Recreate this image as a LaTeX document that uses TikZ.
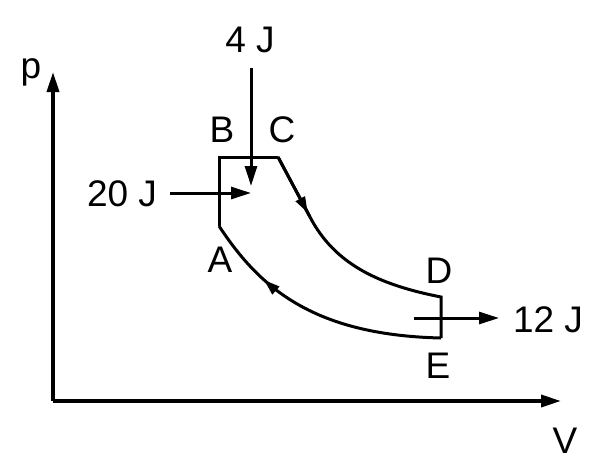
\documentclass[tikz,border=0pt]{standalone}
\usepackage{fontspec}
\setmainfont{Liberation Sans}
\usetikzlibrary{arrows.meta,decorations.markings}
\begin{document}
\begin{tikzpicture}[x=1pt,y=-1pt,
  lbl/.style={inner sep=0pt,anchor=base,font=\fontsize{37}{40}\selectfont},
  cyc/.style={line width=3pt,line join=miter},
  heat/.style={line width=3pt,-{Triangle[length=20pt,width=12pt]}},
  axis/.style={line width=3.5pt,-{Triangle[length=20pt,width=12pt]}},
  midarrow/.style={postaction={decorate},decoration={markings,mark=at position #1 with {\arrow{Triangle[length=16pt,width=10pt]}}}}]
\useasboundingbox (0,0) rectangle (613,466);
% axes
\coordinate (O) at (53,401);
\coordinate (Ytop) at (53,72);
\coordinate (Xend) at (561,401);
\draw[axis] (O) -- (Ytop);
\draw[axis] (O) -- (Xend);
\node[lbl] (p) at (31,78) {p};
\node[lbl] (V) at (565,453) {V};
% cycle points
\coordinate (A) at (219,226);
\coordinate (B) at (219,157);
\coordinate (C) at (278,157);
\coordinate (C2) at (310,217);
\coordinate (D) at (441,297);
\coordinate (E) at (441,338);
\draw[cyc] (A) -- (B) -- (C);
\draw[cyc,midarrow=0.93] (C) -- (C2);
\draw[cyc] (C2) .. controls (335,265) and (380,285) .. (D) -- (E);
\draw[cyc,midarrow=0.73] (E) .. controls (310,335) and (258,285) .. (A);
\draw[cyc] (C) -- (C2);
% labels
\node[lbl] (lB) at (222,142) {B};
\node[lbl] (lC) at (282,142) {C};
\node[lbl] (lA) at (220,272) {A};
\node[lbl] (lD) at (439,283) {D};
\node[lbl] (lE) at (438,378) {E};
% heat flows
\node[lbl] (q4) at (250,52) {4 J};
\coordinate (q4s) at (251,68);
\coordinate (q4e) at (251,186);
\draw[heat] (q4s) -- (q4e);
\node[lbl] (q20) at (122,206) {20 J};
\coordinate (q20s) at (170,193);
\coordinate (q20e) at (251,193);
\draw[heat] (q20s) -- (q20e);
\node[lbl] (q12) at (548,332) {12 J};
\coordinate (q12s) at (414,318);
\coordinate (q12e) at (499,318);
\draw[heat] (q12s) -- (q12e);
\end{tikzpicture}
\end{document}
